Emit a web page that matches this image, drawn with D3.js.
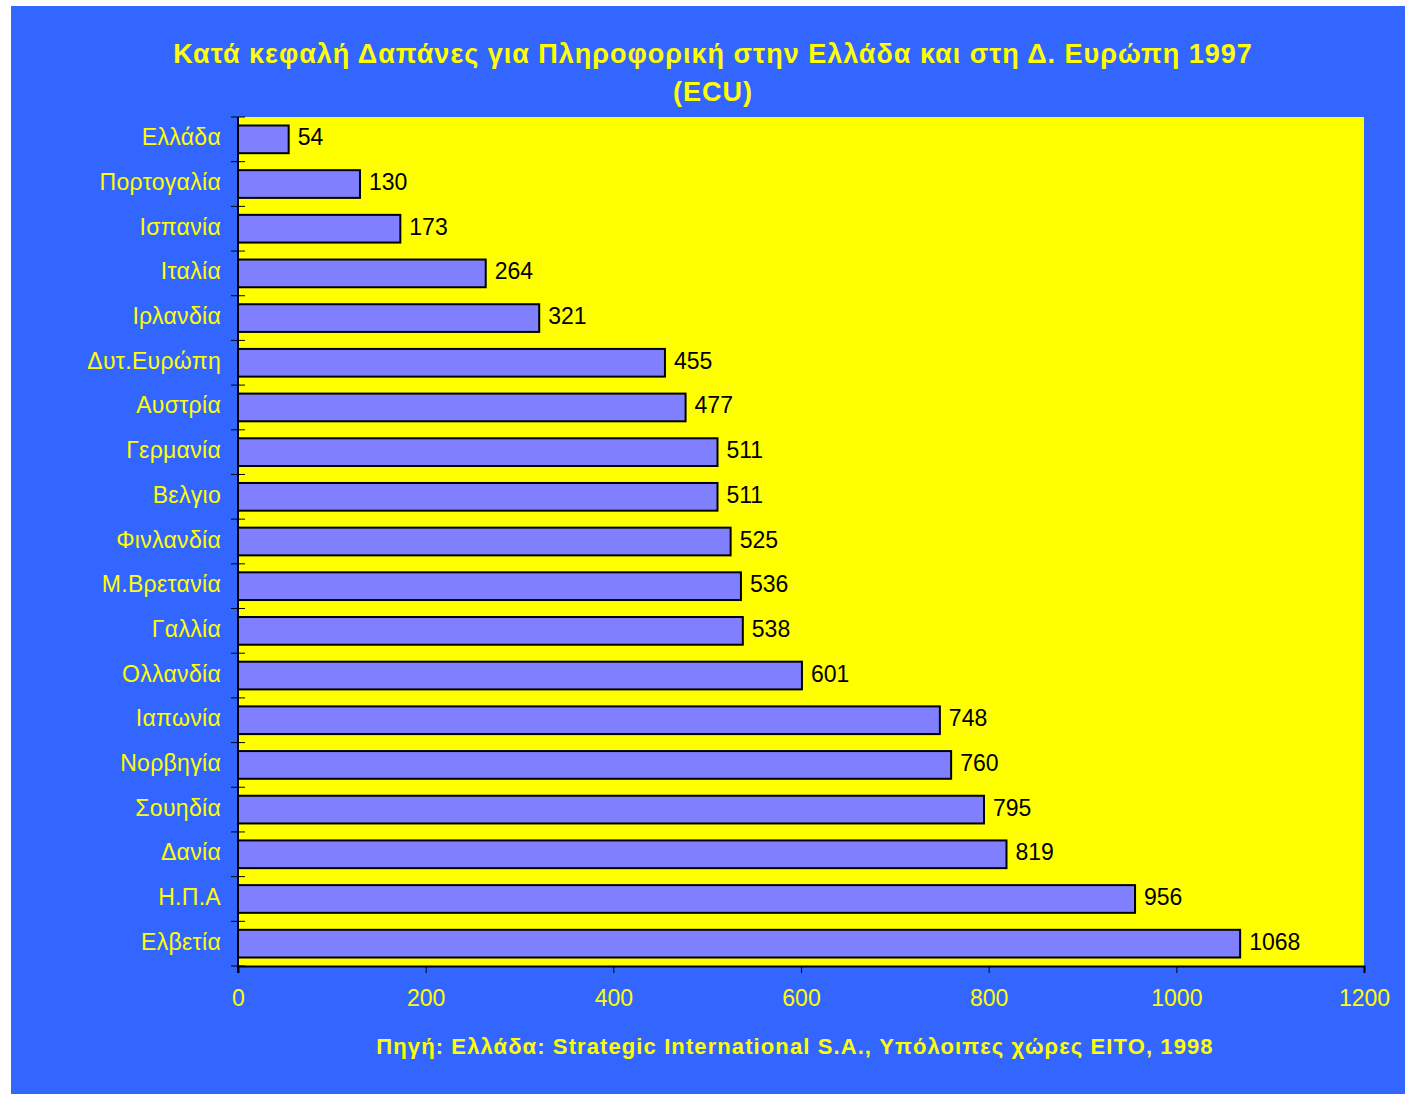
<!DOCTYPE html>
<html>
<head>
<meta charset="utf-8">
<script src="https://cdn.jsdelivr.net/npm/d3@7"></script>
<style>
  body { margin: 0; background: #fff; }
  text { font-family: "Liberation Sans", Arial, sans-serif; }
</style>
</head>
<body>
<svg id="graph" width="1405" height="1094"></svg>
<script>
const countries = ["Ελλάδα", "Πορτογαλία", "Ισπανία", "Ιταλία", "Ιρλανδία", "Δυτ.Ευρώπη",
  "Αυστρία", "Γερμανία", "Βελγιο", "Φινλανδία", "Μ.Βρετανία", "Γαλλία", "Ολλανδία",
  "Ιαπωνία", "Νορβηγία", "Σουηδία", "Δανία", "Η.Π.Α", "Ελβετία"];
const spending = [54, 130, 173, 264, 321, 455, 477, 511, 511, 525, 536, 538, 601,
  748, 760, 795, 819, 956, 1068];
const xTicks = [0, 200, 400, 600, 800, 1000, 1200];
const titleLines = ["Κατά κεφαλή Δαπάνες για Πληροφορική στην Ελλάδα και στη Δ. Ευρώπη 1997", "(ECU)"];
const sourceNote = "Πηγή: Ελλάδα: Strategic International S.A., Υπόλοιπες χώρες EITO, 1998";

const margin = { top: 117, right: 41, bottom: 128, left: 238 };
const W = 1405, H = 1094;

const svg = d3.select("#graph");

svg.append("rect")
  .attr("x", 11).attr("y", 6)
  .attr("width", W - 11).attr("height", H - 6)
  .attr("fill", "#3366ff");

const x = d3.scaleLinear()
  .domain([0, 1200])
  .range([margin.left, W - margin.right]);

const y = d3.scaleBand()
  .domain(countries)
  .range([margin.top, H - margin.bottom])
  .paddingInner(0.38)
  .paddingOuter(0.19);

// plot area
svg.append("rect")
  .attr("x", x(0)).attr("y", margin.top)
  .attr("width", x(1200) - x(0))
  .attr("height", H - margin.bottom - margin.top)
  .attr("fill", "#ffff00");

// bars
svg.append("g")
  .selectAll("rect")
  .data(spending)
  .join("rect")
  .attr("x", x(0))
  .attr("y", (d, i) => y(countries[i]))
  .attr("width", d => x(d) - x(0))
  .attr("height", y.bandwidth())
  .attr("fill", "#8080ff")
  .attr("stroke", "#000")
  .attr("stroke-width", 2);

// value labels
svg.append("g")
  .selectAll("text")
  .data(spending)
  .join("text")
  .attr("x", d => x(d) + 9)
  .attr("y", (d, i) => y(countries[i]) + y.bandwidth() / 2 - 2)
  .attr("dy", "0.35em")
  .attr("font-size", 23)
  .attr("fill", "#000")
  .text(d => d);

// y axis: ticks at category boundaries
const step = y.step();
const boundaries = d3.range(countries.length + 1).map(i => margin.top + i * step);
const yAxis = svg.append("g");
yAxis.append("line")
  .attr("x1", x(0)).attr("x2", x(0))
  .attr("y1", margin.top).attr("y2", H - margin.bottom + 7)
  .attr("stroke", "#000").attr("stroke-width", 2);
yAxis.selectAll("line.tick")
  .data(boundaries)
  .join("line")
  .attr("class", "tick")
  .attr("x1", x(0) - 7).attr("x2", x(0) + 7)
  .attr("y1", d => d).attr("y2", d => d)
  .attr("stroke", "#000").attr("stroke-width", 1);
yAxis.selectAll("text")
  .data(countries)
  .join("text")
  .attr("x", x(0) - 17)
  .attr("y", d => y(d) + y.bandwidth() / 2 - 2)
  .attr("dy", "0.35em")
  .attr("text-anchor", "end")
  .attr("font-size", 23)
  .attr("letter-spacing", 0.3)
  .attr("fill", "#ffff00")
  .text(d => d);

// x axis
const xAxis = svg.append("g")
  .attr("transform", `translate(0,${H - margin.bottom})`)
  .call(d3.axisBottom(x).tickValues(xTicks).tickSize(7).tickPadding(17).tickFormat(d => d));
xAxis.select(".domain").attr("stroke", "#000").attr("stroke-width", 2);
xAxis.selectAll(".tick line").attr("stroke", "#000");
xAxis.selectAll(".tick text")
  .attr("font-size", 23)
  .attr("fill", "#ffff00")
  .attr("font-family", "Liberation Sans, Arial, sans-serif");

// title
svg.append("g")
  .selectAll("text")
  .data(titleLines)
  .join("text")
  .attr("x", 713)
  .attr("y", (d, i) => 63 + i * 38)
  .attr("text-anchor", "middle")
  .attr("font-size", 27)
  .attr("letter-spacing", 1)
  .attr("font-weight", "bold")
  .attr("fill", "#ffff00")
  .text(d => d);

// source
svg.append("text")
  .attr("x", 795)
  .attr("y", 1054)
  .attr("text-anchor", "middle")
  .attr("font-size", 22)
  .attr("letter-spacing", 1.1)
  .attr("font-weight", "bold")
  .attr("fill", "#ffff00")
  .text(sourceNote);
</script>
</body>
</html>
